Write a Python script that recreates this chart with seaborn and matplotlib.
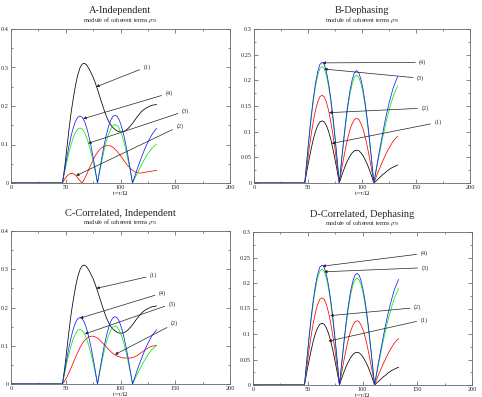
import matplotlib
matplotlib.use('Agg')
import matplotlib.pyplot as plt
import seaborn as sns
from matplotlib.ticker import MultipleLocator, FuncFormatter

sns.set_style('ticks')
plt.rcParams['font.family'] = ['Liberation Serif', 'DejaVu Serif']
plt.rcParams['mathtext.fontset'] = 'stix'

# waktu t = tau/Omega (sama untuk semua kurva)
t = [0, 47, 49, 51, 53, 55, 57, 59, 61, 63, 65, 67, 69, 71, 73, 75, 77, 79,
     81, 83, 85, 87, 89, 91, 93, 95, 97, 99, 101, 103, 105, 107, 109, 111,
     113, 115, 117, 119, 121, 123, 125, 127, 129, 131, 133]

# ---- panel A (dan C untuk kurva 1, 3, 4) ----
black_A = [0, 0, .04, .09, .14, .185, .222, .255, .281, .299, .309, .311, .307, .298, .287, .275, .26, .243,
           .225, .207, .19, .174, .161, .151, .144, .139, .135, .133, .133, .134, .137, .142, .148, .155,
           .163, .171, .178, .185, .19, .194, .197, .2, .202, .203, .204]
red_A = [0, 0, .01, .018, .023, .025, .024, .02, .013, .006, 0, .01, .022, .035, .048, .06, .071, .08,
         .087, .092, .095, .097, .097, .096, .093, .088, .082, .075, .067, .059, .051, .044, .038, .033,
         .029, .027, .026, .026, .027, .028, .029, .03, .031, .032, .033]
green_A = [0, 0, .028, .055, .080, .101, .119, .132, .140, .143, .140, .132, .119, .101, .080, .055, .028, 0,
           .030, .058, .085, .108, .126, .140, .149, .152, .149, .140, .126, .108, .085, .058, .030, 0,
           .012, .024, .035, .046, .057, .067, .076, .084, .091, .096, .101]
blue_A = [0, 0, .034, .067, .097, .123, .145, .161, .171, .174, .171, .161, .145, .123, .097, .067, .034, 0,
          .034, .067, .098, .124, .146, .163, .173, .176, .173, .163, .146, .124, .098, .067, .034, 0,
          .017, .034, .050, .065, .080, .094, .106, .117, .127, .135, .142]

# ---- panel C: hanya kurva (2) yang beda ----
red_C = [0, 0, .008, .018, .03, .043, .057, .07, .083, .095, .105, .113, .119, .123, .125, .125, .123, .12,
         .115, .109, .103, .097, .091, .085, .08, .076, .073, .071, .069, .068, .068, .068, .068, .069,
         .071, .074, .078, .082, .086, .09, .094, .097, .099, .1, .101]

# ---- panel B dan D (dephasing) ----
black_B = [0, 0, .024, .046, .067, .086, .101, .112, .119, .121, .119, .112, .101, .086, .067, .046, .024, 0,
           .013, .025, .036, .045, .053, .059, .063, .064, .063, .059, .053, .045, .036, .025, .013, 0,
           .004, .008, .012, .016, .019, .023, .026, .029, .031, .033, .035]
red_B = [0, 0, .033, .066, .095, .121, .142, .158, .168, .171, .168, .158, .142, .121, .095, .066, .033, 0,
         .025, .048, .070, .089, .105, .116, .124, .126, .124, .116, .105, .089, .070, .048, .025, 0,
         .011, .022, .032, .042, .051, .060, .068, .075, .082, .087, .091]
green_B = [0, 0, .044, .087, .126, .161, .189, .210, .223, .227, .223, .210, .189, .161, .126, .087, .044, 0,
           .041, .080, .117, .149, .175, .194, .206, .210, .206, .194, .175, .149, .117, .080, .041, 0,
           .022, .045, .066, .087, .106, .125, .141, .156, .169, .180, .189]
blue_B = [0, 0, .046, .090, .131, .166, .195, .217, .231, .235, .231, .217, .195, .166, .131, .090, .046, 0,
          .043, .084, .122, .155, .182, .202, .215, .219, .215, .202, .182, .155, .122, .084, .043, 0,
          .025, .049, .072, .095, .117, .137, .155, .171, .186, .197, .207]

titles = ['A-Independent', 'B-Dephasing', 'C-Correlated, Independent', 'D-Correlated, Dephasing']
subtitle = r'module of coherent terms $\rho_{78}$'
xlabel = 't=\u03c4/\u03a9'

COL = {'1': '#000000', '2': '#ff0000', '3': '#00ee00', '4': '#1a1aff'}

# posisi panah: (ujung di kurva, posisi label)
notes_A = {'(1)': ((78, .25), (121, .302)), '(4)': ((66, .167), (141, .233)),
           '(3)': ((70.5, .103), (156, .187)), '(2)': ((59.5, .019), (151, .148))}
notes_B = {'(4)': ((63.5, .234), (153, .235)), '(3)': ((65, .222), (151, .204)),
           '(2)': ((69.5, .137), (155, .146)), '(1)': ((72, .077), (167, .118))}
notes_C = {'(1)': ((78, .25), (127, .284)), '(4)': ((63, .172), (135, .238)),
           '(3)': ((67.5, .131), (144, .21)), '(2)': ((95, .077), (146, .158))}
notes_D = {'(4)': ((63.5, .233), (153, .258)), '(3)': ((65, .222), (154, .23)),
           '(2)': ((70.5, .136), (147, .152)), '(1)': ((69, .086), (153, .128))}


def fmt(v, pos):
    return '0' if abs(v) < 1e-9 else f'{v:g}'


def draw_panel(ax, curves, ymax, ymajor, title, notes):
    for y, c in curves:
        sns.lineplot(x=t, y=y, ax=ax, color=c, lw=0.55, errorbar=None)
    ax.set_xlim(0, 200)
    ax.set_ylim(0, ymax)
    ax.xaxis.set_major_locator(MultipleLocator(50))
    ax.xaxis.set_minor_locator(MultipleLocator(25))
    ax.yaxis.set_major_locator(MultipleLocator(ymajor))
    ax.yaxis.set_minor_locator(MultipleLocator(ymajor / 2))
    ax.yaxis.set_major_formatter(FuncFormatter(fmt))
    ax.tick_params(which='both', direction='in', top=True, right=True,
                   labelsize=4.5, pad=1.5, color='#555555', width=0.5)
    ax.tick_params(which='major', length=3)
    ax.tick_params(which='minor', length=1.5)
    for s in ax.spines.values():
        s.set_color('#666666')
        s.set_linewidth(0.6)
    ax.set_xlabel(xlabel, fontsize=4.5, labelpad=0.8)
    ax.set_ylabel('')
    ax.text(0.5, 1.117, title, transform=ax.transAxes, ha='center', va='center', fontsize=7.5)
    ax.text(0.5, 1.058, subtitle, transform=ax.transAxes, ha='center', va='center', fontsize=4.5)
    for lab, (tip, pos) in notes.items():
        ax.annotate(lab, xy=tip, xytext=pos, ha='left', va='center', fontsize=4.5,
                    arrowprops=dict(arrowstyle='-|>', lw=0.5, color='#222222',
                                    mutation_scale=4, shrinkA=0.5, shrinkB=0))


fig = plt.figure(figsize=(4.82, 3.97), dpi=100)
W, H = 482, 397
axA = fig.add_axes([11 / W, (H - 183) / H, 219 / W, 154 / H])
axB = fig.add_axes([254 / W, (H - 183) / H, 216 / W, 154 / H])
axC = fig.add_axes([11 / W, (H - 384) / H, 219 / W, 153 / H])
axD = fig.add_axes([253 / W, (H - 385) / H, 219 / W, 153 / H])

draw_panel(axA, [(black_A, COL['1']), (red_A, COL['2']), (green_A, COL['3']), (blue_A, COL['4'])],
           0.4, 0.1, titles[0], notes_A)
draw_panel(axB, [(black_B, COL['1']), (red_B, COL['2']), (green_B, COL['3']), (blue_B, COL['4'])],
           0.3, 0.05, titles[1], notes_B)
draw_panel(axC, [(black_A, COL['1']), (red_C, COL['2']), (green_A, COL['3']), (blue_A, COL['4'])],
           0.4, 0.1, titles[2], notes_C)
draw_panel(axD, [(black_B, COL['1']), (red_B, COL['2']), (green_B, COL['3']), (blue_B, COL['4'])],
           0.3, 0.05, titles[3], notes_D)

fig.savefig('out.png', dpi=100)
